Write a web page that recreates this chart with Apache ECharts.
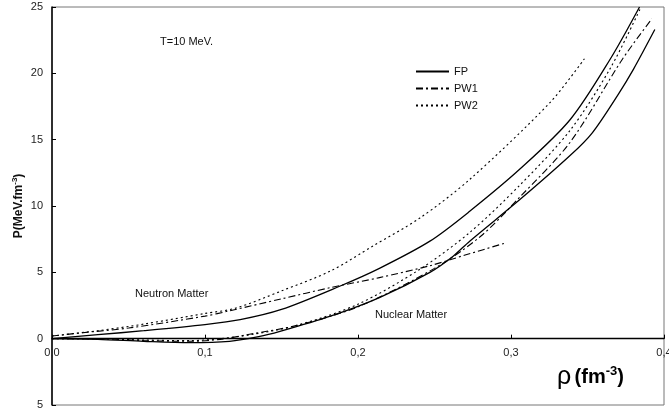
<!DOCTYPE html>
<html>
<head>
<meta charset="utf-8">
<script src="https://cdn.jsdelivr.net/npm/echarts@6/dist/echarts.min.js"></script>
<style>html,body{margin:0;padding:0;background:#fff}#c{width:669px;height:412px}</style>
</head>
<body>
<div id="c"></div>
<script>
// x ticks / labels
const xTickLabels = ['0,0', '0,1', '0,2', '0,3', '0,4'];
const yTickValues = [-5, 0, 5, 10, 15, 20, 25];

// Neutron matter
const nFP_x  = [0, 0.03, 0.06, 0.1, 0.123, 0.15, 0.188, 0.214, 0.247, 0.273, 0.306, 0.3386, 0.365, 0.384];
const nFP_y  = [0, 0.3, 0.6, 1.06, 1.43, 2.2, 3.95, 5.3, 7.35, 9.6, 12.8, 16.5, 21.1, 25];
const nPW1_x = [0, 0.02, 0.05, 0.1, 0.116, 0.15, 0.182, 0.214, 0.247, 0.27, 0.296];
const nPW1_y = [0.2, 0.45, 0.8, 1.7, 2.1, 3.0, 3.85, 4.6, 5.5, 6.3, 7.2];
const nPW2_x = [0, 0.03, 0.06, 0.1, 0.12, 0.15, 0.182, 0.21, 0.2405, 0.273, 0.3255, 0.348];
const nPW2_y = [0.2, 0.6, 1.1, 1.9, 2.3, 3.6, 5.1, 7.0, 9.1, 12.0, 17.8, 21.1];

// Nuclear matter
const sFP_x  = [0, 0.03, 0.06, 0.09, 0.116, 0.135, 0.149, 0.182, 0.214, 0.247, 0.262, 0.273, 0.306, 0.3386, 0.353, 0.37, 0.38, 0.394];
const sFP_y  = [0, -0.05, -0.2, -0.3, -0.2, 0.15, 0.55, 1.7, 3.1, 5.0, 6.2, 7.35, 10.5, 13.8, 15.5, 18.4, 20.3, 23.3];
const sPW1_x = [0, 0.03, 0.06, 0.09, 0.11, 0.13, 0.16, 0.2, 0.25, 0.28, 0.306, 0.3386, 0.373, 0.392];
const sPW1_y = [0, 0, -0.15, -0.2, -0.05, 0.35, 1.0, 2.4, 5.3, 7.7, 10.7, 14.8, 21.1, 24.1];
const sPW2_x = [0, 0.03, 0.06, 0.09, 0.11, 0.13, 0.16, 0.2, 0.24, 0.273, 0.306, 0.3386, 0.365, 0.385];
const sPW2_y = [0, 0, -0.1, -0.15, 0, 0.3, 1.0, 2.6, 5.2, 8.0, 11.6, 15.7, 20.4, 25];

const zip = (xs, ys) => xs.map((x, i) => [x, ys[i]]);
const FONT = 'Liberation Sans, Arial, sans-serif';

const styles = {
  FP:  { color: '#000', width: 1.3, type: 'solid' },
  PW1: { color: '#000', width: 1.1, type: [7, 3, 2, 3] },
  PW2: { color: '#000', width: 1.1, type: [2, 3] }
};
function mk(name, xs, ys) {
  return {
    name: name, type: 'line', data: zip(xs, ys), symbol: 'none', showSymbol: false,
    smooth: 0.3, clip: true,
    lineStyle: styles[name], itemStyle: { color: '#000' }
  };
}

const GRID = { left: 52, right: 5, top: 7, bottom: 7 };
const plotH = 412 - GRID.top - GRID.bottom;

const chart = echarts.init(document.getElementById('c'), null, { renderer: 'canvas' });
chart.setOption({
  animation: false,
  backgroundColor: '#fff',
  textStyle: { fontFamily: FONT },
  grid: { left: GRID.left, right: GRID.right, top: GRID.top, bottom: GRID.bottom,
          outerBoundsMode: 'none', containLabel: false,
          show: true, borderColor: '#777', borderWidth: 1 },
  legend: {
    data: ['FP', 'PW1', 'PW2'],
    orient: 'vertical', left: 410, top: 61,
    itemWidth: 33, itemHeight: 10, itemGap: 6,
    itemStyle: { opacity: 0, borderWidth: 0 },
    textStyle: { fontSize: 11, color: '#111', fontFamily: FONT }
  },
  xAxis: {
    type: 'value', min: 0, max: 0.4, interval: 0.1,
    position: 'bottom', offset: -plotH * 5 / 30,
    axisLine: { onZero: false, lineStyle: { color: '#000', width: 1.3 } },
    axisTick: { inside: true, length: 4, lineStyle: { color: '#000' } },
    axisLabel: { fontSize: 11, color: '#222', margin: 9,
      formatter: v => xTickLabels[Math.round(v * 10)] },
    splitLine: { show: false }
  },
  yAxis: {
    type: 'value', min: -5, max: 25, interval: 5,
    axisLine: { show: true, lineStyle: { color: '#000', width: 1.5 } },
    axisTick: { show: true, inside: true, length: 4, lineStyle: { color: '#000' } },
    axisLabel: { fontSize: 11, color: '#222', margin: 9,
      formatter: v => yTickValues.indexOf(v) >= 0 ? String(Math.abs(v)) : '' },
    splitLine: { show: false },
    name: '{n|P(MeV.fm}{s|-3}{n|)}',
    nameLocation: 'middle', nameRotate: 90, nameGap: 26, nameMoveOverlap: false,
    nameTextStyle: {
      rich: {
        n: { fontSize: 12, fontWeight: 'bold', color: '#111', fontFamily: FONT },
        s: { fontSize: 8, fontWeight: 'bold', color: '#111', fontFamily: FONT, verticalAlign: 'top', padding: [0, 0, 7, 0] }
      }
    }
  },
  graphic: [
    { type: 'text', left: 160, top: 36, style: { text: 'T=10 MeV.', fontSize: 11, fill: '#111', fontFamily: FONT } },
    { type: 'text', left: 135, top: 288, style: { text: 'Neutron Matter', fontSize: 11, fill: '#111', fontFamily: FONT } },
    { type: 'text', left: 375, top: 309, style: { text: 'Nuclear Matter', fontSize: 11, fill: '#111', fontFamily: FONT } },
    { type: 'text', left: 557, top: 365, style: {
        text: '{r|ρ} {f|(fm}{s|-3}{f|)}',
        rich: {
          r: { fontSize: 25, fill: '#000', fontFamily: FONT },
          f: { fontSize: 20, fontWeight: 'bold', fill: '#000', fontFamily: FONT },
          s: { fontSize: 13, fontWeight: 'bold', fill: '#000', fontFamily: FONT, verticalAlign: 'top', padding: [0, 0, 12, 0] }
        } } }
  ],
  series: [
    mk('FP', nFP_x, nFP_y),
    mk('PW1', nPW1_x, nPW1_y),
    mk('PW2', nPW2_x, nPW2_y),
    mk('FP', sFP_x, sFP_y),
    mk('PW1', sPW1_x, sPW1_y),
    mk('PW2', sPW2_x, sPW2_y)
  ]
});
</script>
</body>
</html>
